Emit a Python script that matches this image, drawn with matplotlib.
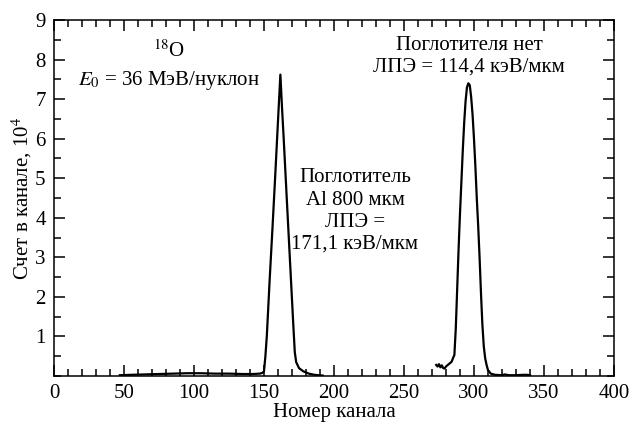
import numpy as np
import matplotlib
matplotlib.use("Agg")
import matplotlib.pyplot as plt
from matplotlib.ticker import MultipleLocator, FixedLocator

plt.rcParams["font.family"] = ["Liberation Serif", "DejaVu Serif"]
plt.rcParams["mathtext.fontset"] = "stix"

# spectrum with 800 um Al absorber (counts, 10^4)
ch_al = [47, 55, 65, 75, 85, 95, 105, 115, 125, 135, 142, 147, 149, 150, 151,
         152, 153, 154, 156, 158, 160, 161.7, 163, 164, 166, 168, 170, 171,
         172, 173, 175, 178, 182, 186, 192]
cnt_al = [0.02, 0.03, 0.04, 0.05, 0.06, 0.07, 0.07, 0.06, 0.06, 0.05, 0.05,
          0.06, 0.08, 0.12, 0.5, 1.0, 1.7, 2.4, 3.7, 5.05, 6.45, 7.62, 6.7,
          6.05, 4.67, 3.3, 1.93, 1.25, 0.6, 0.35, 0.2, 0.12, 0.06, 0.03, 0.01]

# spectrum without absorber
ch_free = [273, 274, 275, 276, 277, 278, 279, 280, 281, 282, 283, 284, 285,
           286, 287, 288, 289, 290, 291, 292, 293, 294, 295, 296, 297, 298,
           299, 300, 301, 302, 303, 304, 305, 306, 307, 308, 309, 310, 312,
           315, 320, 322, 325, 330, 335, 338, 340]
cnt_free = [0.28, 0.24, 0.3, 0.22, 0.27, 0.2, 0.19, 0.24, 0.27, 0.3, 0.33,
            0.36, 0.45, 0.53, 1.2, 2.2, 3.2, 4.1, 4.9, 5.7, 6.4, 6.95, 7.3,
            7.4, 7.35, 7.05, 6.6, 6.0, 5.3, 4.5, 3.8, 3.0, 2.1, 1.3, 0.75,
            0.45, 0.28, 0.15, 0.06, 0.03, 0.02, 0.04, 0.02, 0.02, 0.03, 0.03,
            0.02]

x_ticks = [0, 50, 100, 150, 200, 250, 300, 350, 400]
y_ticks = [1, 2, 3, 4, 5, 6, 7, 8, 9]

fig = plt.figure(figsize=(6.31, 4.24), dpi=100)
ax = fig.add_axes([0.0856, 0.1132, 0.8874, 0.8396])

ax.plot(ch_al, cnt_al, color="black", lw=1.6)
ax.plot(ch_free, cnt_free, color="black", lw=1.6)

ax.set_xlim(0, 400)
ax.set_ylim(0, 9)
ax.xaxis.set_major_locator(FixedLocator(x_ticks))
ax.xaxis.set_minor_locator(MultipleLocator(10))
ax.yaxis.set_major_locator(FixedLocator(y_ticks))
ax.yaxis.set_minor_locator(MultipleLocator(0.5))
ax.tick_params(which="both", direction="in", top=True, right=True,
               labelsize=15, width=1.1, pad=6)
ax.tick_params(which="major", length=8)
ax.tick_params(which="minor", length=5)
for s in ax.spines.values():
    s.set_linewidth(1.1)

ax.set_xlabel("Номер канала", fontsize=15, labelpad=0)
ax.set_ylabel("Счет в канале, 10$^4$", fontsize=15, labelpad=1)

fs = 15
ax.text(82, 8.22, "$^{18}$O", ha="center", va="center", fontsize=fs)
ax.text(82, 7.48, "$E_0$ = 36 МэВ/нуклон", ha="center", va="center", fontsize=fs)
ax.text(296.5, 8.36, "Поглотителя нет", ha="center", va="center", fontsize=fs)
ax.text(296.5, 7.8, "ЛПЭ = 114,4 кэВ/мкм", ha="center", va="center", fontsize=fs)
ax.text(215, 4.17, "Поглотитель\nAl 800 мкм\nЛПЭ =\n171,1 кэВ/мкм",
        ha="center", va="center", fontsize=fs, linespacing=1.22)

fig.savefig("out.png", dpi=100)
